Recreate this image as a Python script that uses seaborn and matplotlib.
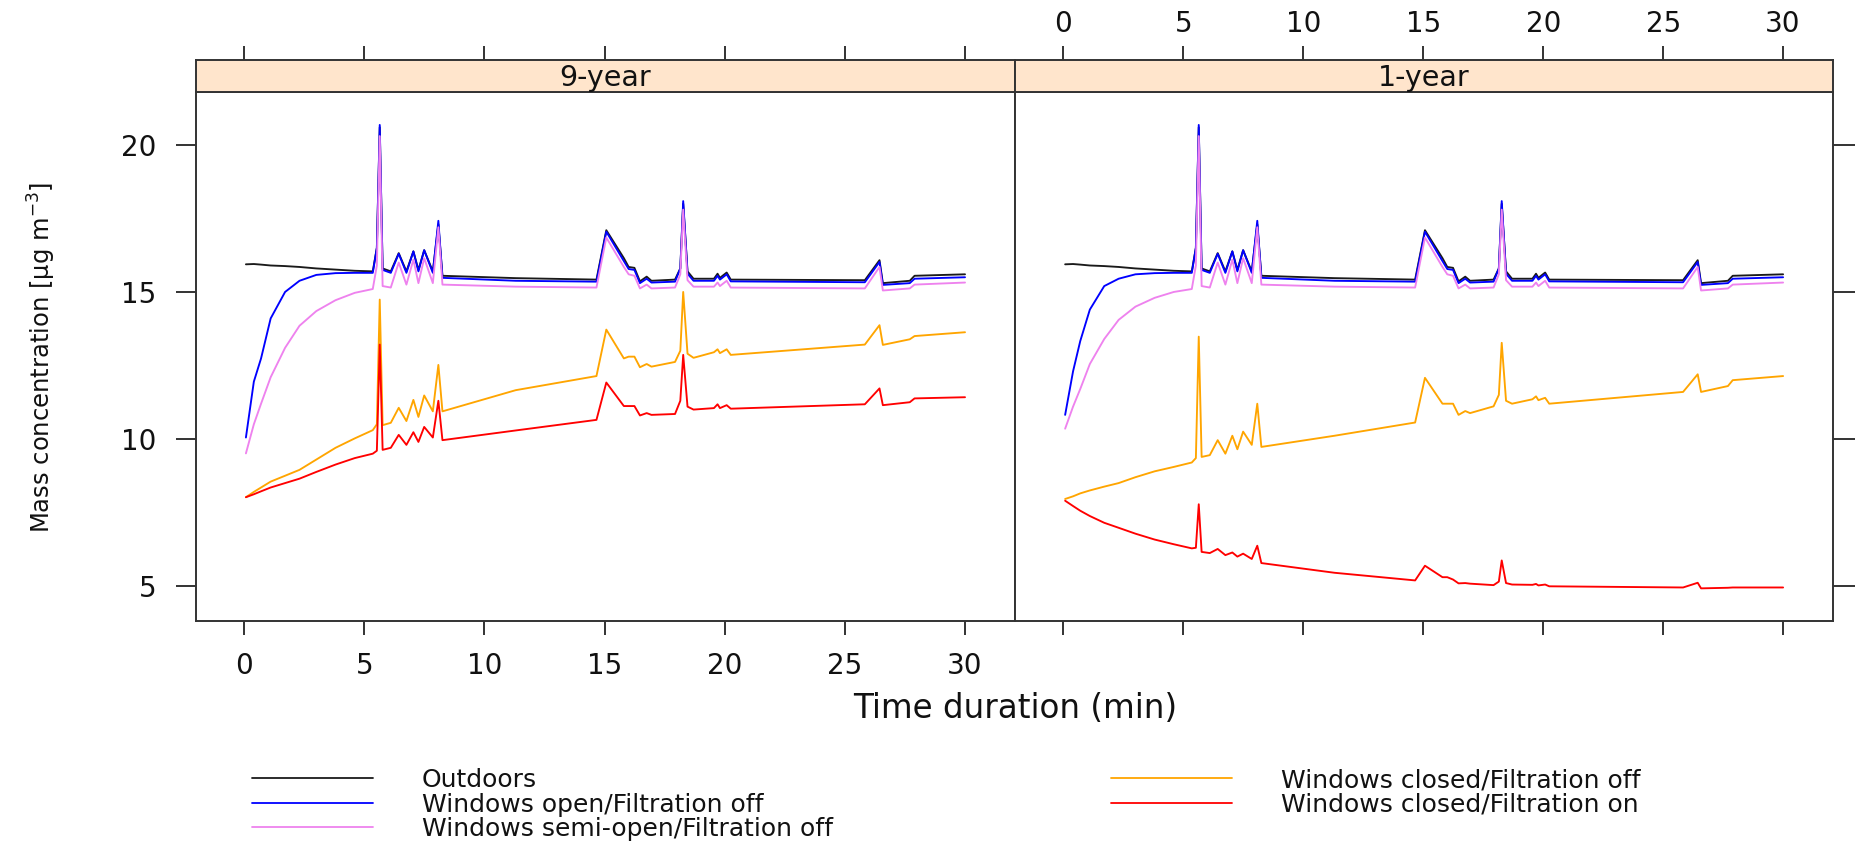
import numpy as np
import pandas as pd
import matplotlib
matplotlib.use("Agg")
import matplotlib.pyplot as plt
from matplotlib.lines import Line2D
import seaborn as sns

# ---------------- data ----------------
panels = ["9-year", "1-year"]
series_names = ["Outdoors",
                "Windows open/Filtration off",
                "Windows semi-open/Filtration off",
                "Windows closed/Filtration off",
                "Windows closed/Filtration on"]
series_colors = ["#1a1a1a", "#0000FF", "#EE82EE", "#FFA500", "#FF0000"]

time_min = [0.07, 0.40, 0.70, 1.10, 1.70, 2.30, 3.00, 3.80, 4.60, 5.35,
            5.52, 5.64, 5.76, 6.10, 6.43, 6.75, 7.04, 7.25, 7.49, 7.85,
            8.08, 8.25, 11.30, 14.66, 15.07, 15.80, 16.00, 16.24, 16.47, 16.75,
            16.95, 17.93, 18.15, 18.27, 18.45, 18.70, 19.55, 19.70, 19.80, 20.08,
            20.25, 25.83, 26.44, 26.58, 27.70, 27.90, 30.00]

outdoors = [15.94, 15.95, 15.93, 15.90, 15.88, 15.85, 15.80, 15.76, 15.72, 15.70,
            16.50, 20.60, 15.80, 15.70, 16.32, 15.70, 16.38, 15.75, 16.42, 15.70,
            17.30, 15.55, 15.47, 15.42, 17.10, 16.15, 15.85, 15.82, 15.36, 15.52,
            15.38, 15.42, 15.80, 18.00, 15.70, 15.45, 15.45, 15.62, 15.48, 15.66,
            15.42, 15.40, 16.08, 15.30, 15.38, 15.55, 15.60]

open_9y = [10.05, 11.95, 12.74, 14.10, 15.00, 15.38, 15.58, 15.64, 15.65, 15.65,
           16.50, 20.68, 15.75, 15.65, 16.30, 15.65, 16.38, 15.70, 16.42, 15.65,
           17.42, 15.48, 15.38, 15.35, 17.05, 16.05, 15.78, 15.75, 15.30, 15.45,
           15.32, 15.35, 15.80, 18.09, 15.62, 15.38, 15.38, 15.55, 15.42, 15.60,
           15.36, 15.33, 16.02, 15.24, 15.30, 15.45, 15.50]

open_1y = [10.82, 12.30, 13.33, 14.40, 15.20, 15.45, 15.60, 15.64, 15.65, 15.65,
           16.50, 20.68, 15.75, 15.65, 16.30, 15.65, 16.38, 15.70, 16.42, 15.65,
           17.42, 15.48, 15.38, 15.35, 17.05, 16.05, 15.78, 15.75, 15.30, 15.45,
           15.32, 15.35, 15.80, 18.09, 15.62, 15.38, 15.38, 15.55, 15.42, 15.60,
           15.36, 15.33, 16.02, 15.24, 15.30, 15.45, 15.50]

semi_9y = [9.51, 10.50, 11.20, 12.10, 13.10, 13.85, 14.35, 14.72, 14.97, 15.10,
           15.90, 20.30, 15.20, 15.15, 16.00, 15.25, 16.10, 15.30, 16.15, 15.30,
           17.20, 15.25, 15.18, 15.15, 16.85, 15.85, 15.60, 15.55, 15.12, 15.25,
           15.12, 15.15, 15.60, 17.80, 15.40, 15.18, 15.18, 15.32, 15.20, 15.38,
           15.15, 15.12, 15.85, 15.05, 15.12, 15.25, 15.32]

semi_1y = [10.35, 11.10, 11.70, 12.55, 13.40, 14.05, 14.50, 14.80, 15.00, 15.10,
           15.90, 20.30, 15.20, 15.15, 16.00, 15.25, 16.10, 15.30, 16.15, 15.30,
           17.20, 15.25, 15.18, 15.15, 16.85, 15.85, 15.60, 15.55, 15.12, 15.25,
           15.12, 15.15, 15.60, 17.80, 15.40, 15.18, 15.18, 15.32, 15.20, 15.38,
           15.15, 15.12, 15.85, 15.05, 15.12, 15.25, 15.32]

closed_off_9y = [8.02, 8.20, 8.35, 8.55, 8.75, 8.95, 9.30, 9.70, 10.02, 10.30,
                 10.50, 14.74, 10.47, 10.55, 11.06, 10.61, 11.33, 10.75, 11.48, 10.94,
                 12.52, 10.94, 11.66, 12.14, 13.72, 12.74, 12.80, 12.80, 12.44, 12.55,
                 12.46, 12.62, 13.00, 15.00, 12.90, 12.76, 12.95, 13.05, 12.92, 13.05,
                 12.86, 13.21, 13.87, 13.20, 13.39, 13.50, 13.63]

closed_on_9y = [8.02, 8.12, 8.22, 8.35, 8.50, 8.65, 8.88, 9.13, 9.35, 9.50,
                9.60, 13.21, 9.63, 9.70, 10.14, 9.80, 10.23, 9.90, 10.41, 10.05,
                11.30, 9.96, 10.29, 10.65, 11.92, 11.12, 11.12, 11.12, 10.80, 10.88,
                10.82, 10.85, 11.30, 12.86, 11.10, 11.00, 11.05, 11.18, 11.05, 11.15,
                11.03, 11.18, 11.72, 11.15, 11.25, 11.38, 11.42]

closed_off_1y = [7.96, 8.05, 8.15, 8.25, 8.38, 8.50, 8.70, 8.90, 9.05, 9.20,
                 9.35, 13.48, 9.39, 9.45, 9.96, 9.50, 10.11, 9.65, 10.25, 9.80,
                 11.20, 9.73, 10.11, 10.56, 12.08, 11.20, 11.20, 11.20, 10.82, 10.95,
                 10.88, 11.11, 11.50, 13.27, 11.30, 11.20, 11.35, 11.45, 11.32, 11.40,
                 11.20, 11.60, 12.20, 11.60, 11.80, 12.00, 12.14]

closed_on_1y = [7.90, 7.72, 7.56, 7.38, 7.15, 6.98, 6.78, 6.58, 6.42, 6.28,
                6.30, 7.78, 6.16, 6.12, 6.26, 6.05, 6.14, 6.00, 6.10, 5.92,
                6.37, 5.78, 5.45, 5.19, 5.69, 5.30, 5.30, 5.22, 5.09, 5.10,
                5.08, 5.03, 5.15, 5.87, 5.10, 5.05, 5.04, 5.07, 5.02, 5.05,
                4.99, 4.95, 5.11, 4.92, 4.94, 4.95, 4.95]

x_ticks = [0, 5, 10, 15, 20, 25, 30]
y_ticks = [5, 10, 15, 20]

panel_series = {
    "9-year": [outdoors, open_9y, semi_9y, closed_off_9y, closed_on_9y],
    "1-year": [outdoors, open_1y, semi_1y, closed_off_1y, closed_on_1y],
}

rows = []
for p in panels:
    for name, vals in zip(series_names, panel_series[p]):
        for t, v in zip(time_min, vals):
            rows.append((p, name, t, v))
df = pd.DataFrame(rows, columns=["panel", "series", "time", "value"])

# ---------------- styling ----------------
sns.set_theme(style="white")
plt.rcParams["font.family"] = ["DejaVu Sans"]
plt.rcParams["mathtext.fontset"] = "dejavusans"

W, H = 1858, 846
fig = plt.figure(figsize=(W / 100, H / 100), dpi=100)

def fx(px):
    return px / W

def fy(py):
    return 1 - py / H

left_px, mid_px, right_px = 195.7, 1015.0, 1833.0
top_px, bot_px, strip_top_px = 92.0, 621.0, 60.0
edge = "#333333"
lw_edge = 1.4

ax1 = fig.add_axes([fx(left_px), fy(bot_px), fx(mid_px - left_px), (bot_px - top_px) / H])
ax2 = fig.add_axes([fx(mid_px), fy(bot_px), fx(right_px - mid_px), (bot_px - top_px) / H],
                   sharey=ax1)
st1 = fig.add_axes([fx(left_px), fy(top_px), fx(mid_px - left_px), (top_px - strip_top_px) / H],
                   sharex=ax1)
st2 = fig.add_axes([fx(mid_px), fy(top_px), fx(right_px - mid_px), (top_px - strip_top_px) / H],
                   sharex=ax2)

palette = dict(zip(series_names, series_colors))
for ax, p in [(ax1, panels[0]), (ax2, panels[1])]:
    sns.lineplot(data=df[df["panel"] == p], x="time", y="value", hue="series",
                 hue_order=series_names, palette=palette, estimator=None,
                 sort=False, lw=1.35, legend=False, ax=ax)
    ax.set_xlabel("")
    ax.set_ylabel("")
    ax.set_xlim(-2.02, 32.08)
    ax.set_ylim(3.81, 21.80)
    ax.set_xticks(x_ticks)
    ax.set_yticks(y_ticks)
    ax.grid(False)
    for s in ax.spines.values():
        s.set_color(edge)
        s.set_linewidth(lw_edge)
        s.set_visible(True)

for st, p in [(st1, panels[0]), (st2, panels[1])]:
    st.set_facecolor("#FFE5CC")
    for s in st.spines.values():
        s.set_color(edge)
        s.set_linewidth(lw_edge)
        s.set_visible(True)
    st.set_yticks([])
    st.text(0.5, 0.45, p, transform=st.transAxes, ha="center", va="center",
            fontsize=20.5, color="#111111")

tick_kw = dict(direction="out", color=edge, width=1.4, labelsize=20,
               labelcolor="#111111")
# left panel
ax1.tick_params(axis="x", bottom=True, top=False, labelbottom=True, labeltop=False,
                length=10, pad=12, **tick_kw)
ax1.tick_params(axis="y", left=True, right=False, labelleft=True, labelright=False,
                length=14.5, pad=14, **tick_kw)
# right panel
ax2.tick_params(axis="x", bottom=True, top=False, labelbottom=False, labeltop=False,
                length=10, **tick_kw)
ax2.tick_params(axis="y", left=False, right=True, labelleft=False, labelright=False,
                length=15.5, **tick_kw)
# strips carry the top ticks
st1.tick_params(axis="x", bottom=False, top=True, labelbottom=False, labeltop=False,
                length=10, **tick_kw)
st2.tick_params(axis="x", bottom=False, top=True, labelbottom=False, labeltop=True,
                length=10, pad=6, **tick_kw)

fig.text(fx(1015), fy(708), "Time duration (min)", ha="center", va="center",
         fontsize=23.5, color="#111111")
fig.text(fx(42), fy(357), r"Mass concentration [μg m$^{-3}$]", ha="center",
         va="center", rotation=90, fontsize=17.5, color="#111111")

# legend
handles = [Line2D([], [], color=c, lw=1.3) for c in series_colors]
leg_kw = dict(loc="upper left", frameon=False, borderpad=0, borderaxespad=0,
              fontsize=18, handlelength=4.85, handletextpad=1.96, labelspacing=0.02,
              labelcolor="#111111")
fig.legend(handles[:3], series_names[:3], bbox_to_anchor=(fx(251.7), fy(768)), **leg_kw)
fig.legend(handles[3:], series_names[3:], bbox_to_anchor=(fx(1111), fy(768)), **leg_kw)

fig.savefig("out.png", dpi=100)
